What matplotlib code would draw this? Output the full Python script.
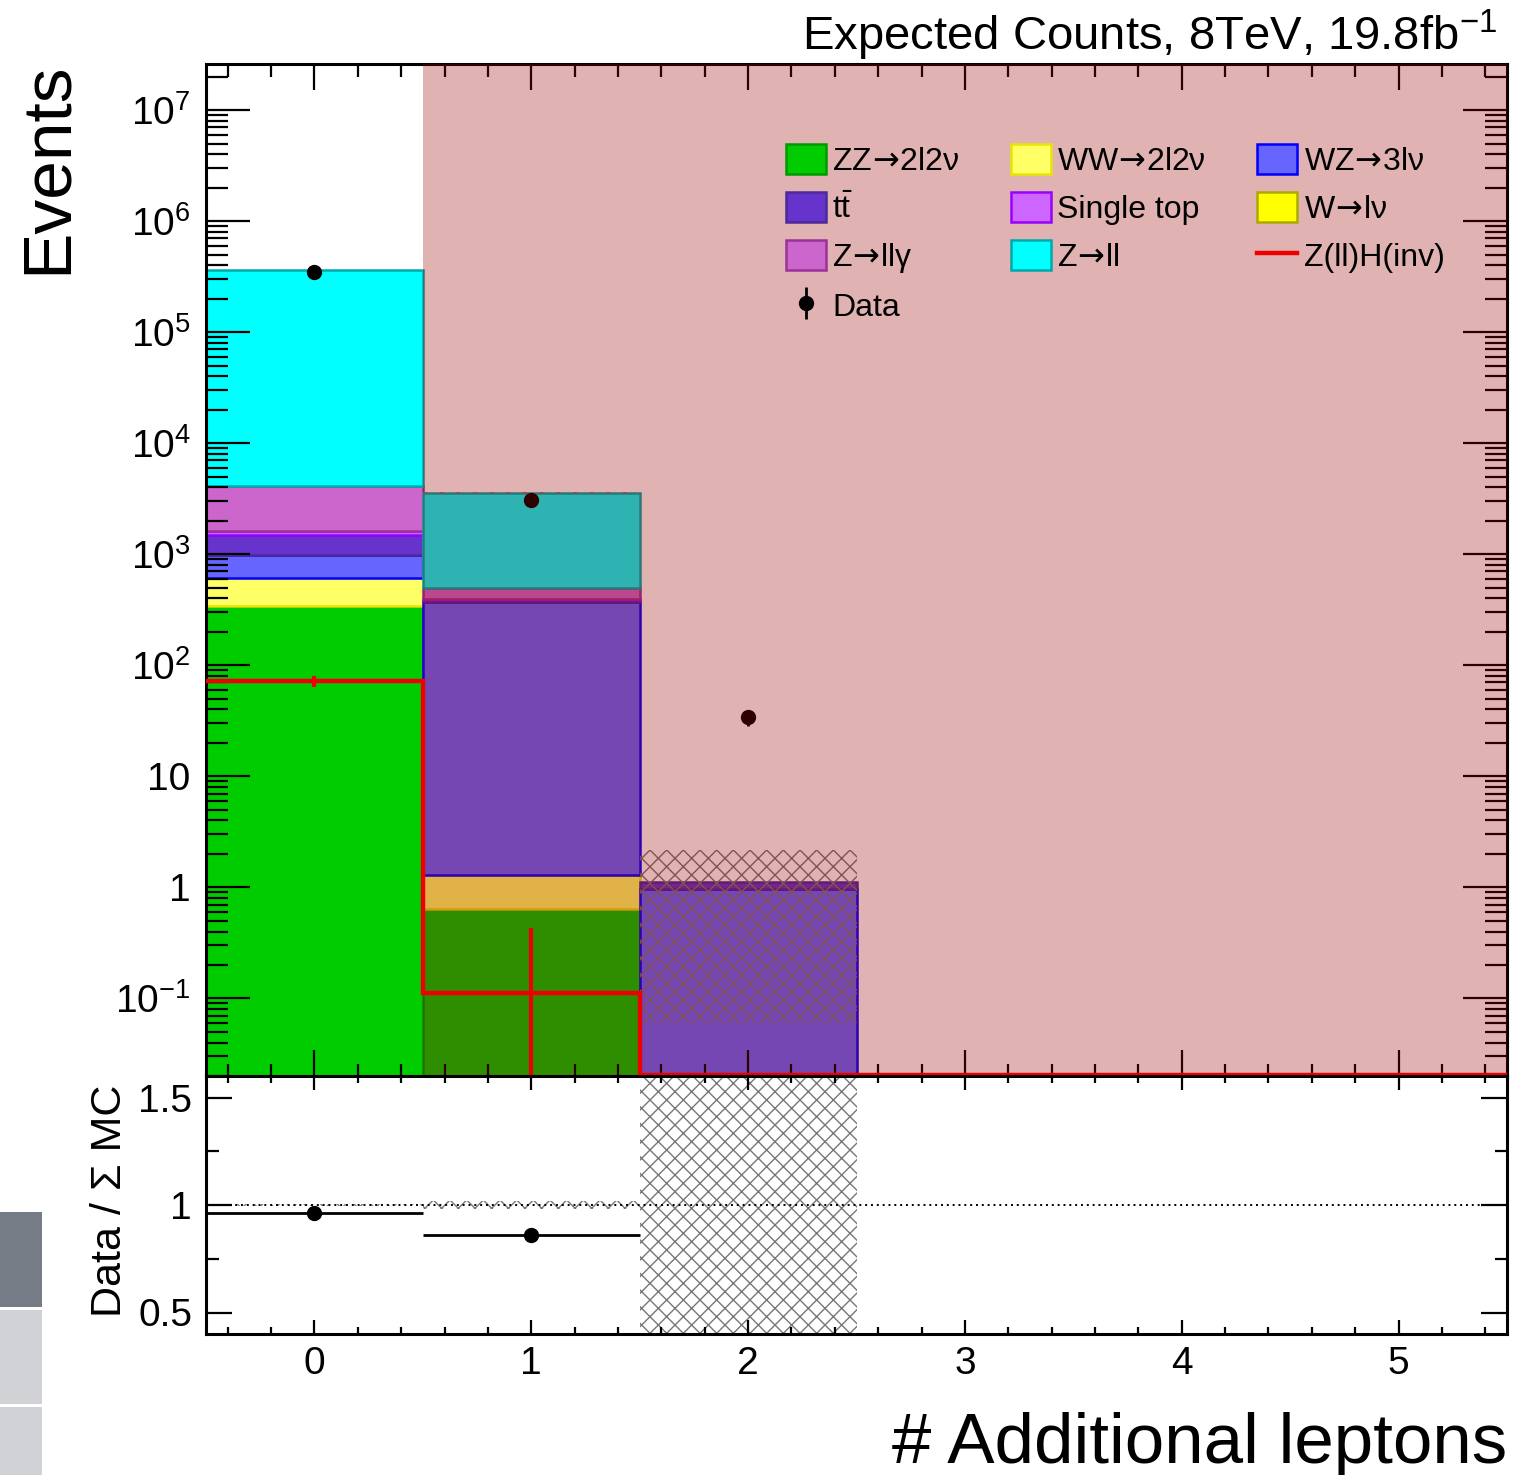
import numpy as np
import matplotlib
matplotlib.use("Agg")
import matplotlib.pyplot as plt
from matplotlib.patches import Patch, Rectangle
from matplotlib.lines import Line2D
from matplotlib.ticker import FixedLocator, FixedFormatter, LogLocator, NullFormatter, MultipleLocator

plt.rcParams['font.family'] = ['Liberation Sans', 'DejaVu Sans']
plt.rcParams['mathtext.fontset'] = 'dejavusans'
plt.rcParams['hatch.linewidth'] = 1.0

# ---- data ----
bins = [0, 1, 2, 3, 4, 5]
zz = [341, 0.643, 0.0, 0.0, 0.0, 0.0]
ww = [273, 0.66, 0.0, 0.0, 0.0, 0.0]
wz = [367, 370, 0.97, 0.0, 0.0, 0.0]
ttbar = [504, 18, 0.15, 0.0, 0.0, 0.0]
single_top = [137, 6, 0.0, 0.0, 0.0, 0.0]
w_lnu = [0.0, 0.0, 0.0, 0.0, 0.0, 0.0]
z_llg = [2498, 100, 0.0, 0.0, 0.0, 0.0]
z_ll = [358000, 3072, 0.0, 0.0, 0.0, 0.0]
mc_err = [1100, 61, 1.06, 0.0, 0.0, 0.0]

data = [349000, 3072, 34, 0, 0, 0]
data_err = [590, 55, 5.8, 0, 0, 0]

zh = [72, 0.111, 0.0, 0.0, 0.0, 0.0]
zh_err = [8, 0.32, 0.0, 0.0, 0.0, 0.0]

y_ticks = [1e-1, 1, 10, 1e2, 1e3, 1e4, 1e5, 1e6, 1e7]
y_ticklabels = [r'$\mathregular{10^{-1}}$', '1', '10', r'$\mathregular{10^{2}}$',
                r'$\mathregular{10^{3}}$', r'$\mathregular{10^{4}}$', r'$\mathregular{10^{5}}$',
                r'$\mathregular{10^{6}}$', r'$\mathregular{10^{7}}$']
ratio_ticks = [0.5, 1, 1.5]
ratio_ticklabels = ['0.5', '1', '1.5']

ARROW = r'$\!\rightarrow\!$'
samples = [
    ('ZZ' + ARROW + '2l2ν', zz, '#00cc00', '#009900'),
    ('WW' + ARROW + '2l2ν', ww, '#ffff66', '#e6e600'),
    ('WZ' + ARROW + '3lν', wz, '#6666ff', '#0000ff'),
    (r'$\mathregular{t\bar{t}}$', ttbar, '#6633cc', '#4c2a99'),
    ('Single top', single_top, '#cc66ff', '#9900ff'),
    ('W' + ARROW + 'lν', w_lnu, '#ffff00', '#aaaa00'),
    ('Z' + ARROW + 'llγ', z_llg, '#cc66cc', '#993399'),
    ('Z' + ARROW + 'll', z_ll, '#00ffff', '#00aaaa'),
]

W, H = 1518, 1475
fig = plt.figure(figsize=(W / 100, H / 100), dpi=100)
L, R = 206 / W, 1507 / W
ax = fig.add_axes([L, 1 - 1076 / H, R - L, (1076 - 64) / H])
rax = fig.add_axes([L, 1 - 1334 / H, R - L, (1334 - 1076) / H])

x = np.array(bins, dtype=float)
ymin, ymax = 0.02, 2.6e7

# stacked backgrounds
bottom = np.zeros(len(bins))
handles = []
for label, vals, fc, ec in samples:
    v = np.array(vals, dtype=float)
    m = v > 0
    ax.bar(x[m], v[m], width=1.0, bottom=np.where(bottom[m] > 0, bottom[m], ymin * 1e-3),
           color=fc, edgecolor=ec, linewidth=1.8, zorder=1)
    bottom = bottom + v
    handles.append(Patch(facecolor=fc, edgecolor=ec, linewidth=1.8, label=label))
total = bottom

# MC uncertainty band
err = np.array(mc_err)
for xi, t, e in zip(x, total, err):
    if t > 0:
        ax.fill_between([xi - 0.5, xi + 0.5], max(t - e, ymin * 1e-3), t + e,
                        facecolor='none', edgecolor='#777777', linewidth=0,
                        hatch='xx', zorder=2)

# data
d = np.array(data, dtype=float)
dm = d > 0
data_h = ax.errorbar(x[dm], d[dm], yerr=np.array(data_err)[dm], fmt='o', color='black',
                     markersize=10, elinewidth=2, capsize=0, zorder=2.6, label='Data')

# shaded region over bins above zero
ax.axvspan(0.5, 5.5, facecolor=(0.6, 0.0, 0.0), alpha=0.3, linewidth=0, zorder=3)

# signal
zh_arr = np.array(zh, dtype=float)
edges = np.append(x - 0.5, x[-1] + 0.5)
ax.stairs(np.clip(zh_arr, ymin * 1.02, None), edges, baseline=None, color='#ee0000',
          linewidth=3.2, zorder=4)
zm = zh_arr > 0
ax.errorbar(x[zm], zh_arr[zm], yerr=[np.minimum(np.array(zh_err)[zm], zh_arr[zm] * 0.999),
                                      np.array(zh_err)[zm]],
            fmt='none', ecolor='#ee0000', elinewidth=3, capsize=0, zorder=4)
zh_h = Line2D([], [], color='#ee0000', linewidth=3.2, label='Z(ll)H(inv)')

ax.set_yscale('log')
ax.set_xlim(-0.5, 5.5)
ax.set_ylim(ymin, ymax)
ax.yaxis.set_major_locator(FixedLocator(y_ticks))
ax.yaxis.set_major_formatter(FixedFormatter(y_ticklabels))
ax.yaxis.set_minor_locator(LogLocator(base=10, subs=np.arange(2, 10), numticks=30))
ax.yaxis.set_minor_formatter(NullFormatter())
ax.xaxis.set_major_locator(MultipleLocator(1))
ax.xaxis.set_minor_locator(MultipleLocator(0.2))
ax.tick_params(axis='both', which='both', direction='in', top=True, right=True, width=1.6)
ax.tick_params(axis='x', which='major', length=19, labelbottom=False)
ax.tick_params(axis='x', which='minor', length=9)
ax.tick_params(axis='y', which='major', length=32, labelsize=28, pad=11)
ax.tick_params(axis='y', which='minor', length=16)
for s in ax.spines.values():
    s.set_linewidth(2.2)
    s.set_zorder(2.5)

# legend: three columns, filled column by column
leg_h = [handles[0], handles[3], handles[6], data_h,
         handles[1], handles[4], handles[7],
         handles[2], handles[5], zh_h]
leg_l = [handles[0].get_label(), handles[3].get_label(), handles[6].get_label(), 'Data',
         handles[1].get_label(), handles[4].get_label(), handles[7].get_label(),
         handles[2].get_label(), handles[5].get_label(), 'Z(ll)H(inv)']
ax.legend(leg_h, leg_l, ncol=3, loc='upper left', bbox_to_anchor=(0.4458, 0.921),
          frameon=False, fontsize=23, handlelength=1.25, handleheight=1.05,
          handletextpad=0.2, columnspacing=1.6, labelspacing=0.48,
          borderaxespad=0, borderpad=0)

# ratio panel
ratio = np.where(total > 0, d / np.where(total > 0, total, 1), np.nan)
rel = np.where(total > 0, err / np.where(total > 0, total, 1), 0)
for xi, t, r in zip(x, total, rel):
    if t > 0:
        rax.fill_between([xi - 0.5, xi + 0.5], 1 - r, 1 + r, facecolor='none',
                         edgecolor='#777777', linewidth=0, hatch='xx', zorder=1)
rax.axhline(1.0, color='black', linestyle=(0, (1, 2)), linewidth=1.4, zorder=2)
rm = (total > 0) & (d > 0)
rax.errorbar(x[rm], ratio[rm], xerr=0.5, yerr=(np.array(data_err) / np.where(total > 0, total, 1))[rm],
             fmt='o', color='black', markersize=10, elinewidth=2, capsize=0, zorder=3)
rax.set_xlim(-0.5, 5.5)
rax.set_ylim(0.4, 1.6)
rax.yaxis.set_major_locator(FixedLocator(ratio_ticks))
rax.yaxis.set_major_formatter(FixedFormatter(ratio_ticklabels))
rax.yaxis.set_minor_locator(MultipleLocator(0.25))
rax.xaxis.set_major_locator(MultipleLocator(1))
rax.xaxis.set_minor_locator(MultipleLocator(0.2))
rax.tick_params(axis='both', which='both', direction='in', top=True, right=True, width=1.6)
rax.tick_params(axis='x', which='major', length=10, labelsize=28, pad=9)
rax.tick_params(axis='x', which='minor', length=5)
rax.tick_params(axis='y', which='major', length=19, labelsize=28, pad=10)
rax.tick_params(axis='y', which='minor', length=9)
for s in rax.spines.values():
    s.set_linewidth(2.2)

# titles and axis labels
fig.text(1497 / W, 1 - 50 / H, r'Expected Counts, 8TeV, 19.8fb$^{\mathregular{-1}}$',
         ha='right', va='baseline', fontsize=34)
fig.text(48 / W, 1 - 62 / H, 'Events', rotation=90, ha='center', va='top', fontsize=50)
fig.text(110 / W, 1 - 1085 / H, 'Data / Σ MC', rotation=90, ha='center', va='top', fontsize=31)
fig.text(1507 / W, 1 - 1463 / H, '# Additional leptons', ha='right', va='baseline', fontsize=51)

# sidebar blocks at the lower left edge
fig.patches.append(Rectangle((0, 1 - 1307 / H), 42 / W, 95 / H, transform=fig.transFigure,
                             facecolor='#767c85', edgecolor='none'))
fig.patches.append(Rectangle((0, 1 - 1404 / H), 42 / W, 94 / H, transform=fig.transFigure,
                             facecolor='#d0d2d5', edgecolor='none'))
fig.patches.append(Rectangle((0, 0), 42 / W, 68 / H, transform=fig.transFigure,
                             facecolor='#d0d2d5', edgecolor='none'))

fig.savefig('out.png', dpi=100)
